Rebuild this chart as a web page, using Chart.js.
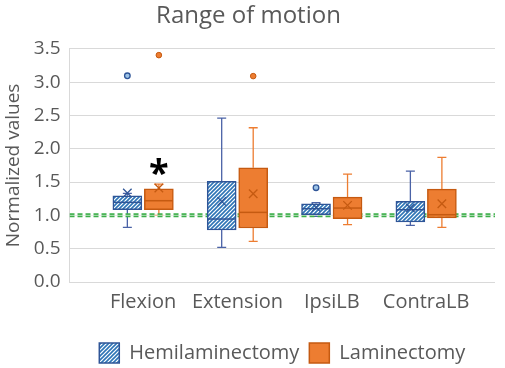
<!DOCTYPE html>
<html>
<head>
<meta charset="utf-8">
<script src="https://cdn.jsdelivr.net/npm/chart.js@4.4.0/dist/chart.umd.min.js"></script>
<style>
html, body { margin: 0; padding: 0; background: #fff; }
#contenedor { width: 505px; height: 368px; }
</style>
</head>
<body>
<div id="contenedor"><canvas id="grafico"></canvas></div>
<script>
const categorias = ["Flexion", "Extension", "IpsiLB", "ContraLB"];
const nombresSeries = ["Hemilaminectomy", "Laminectomy"];

// Hemilaminectomy
const hemiMin = [0.82, 0.52, 0.985, 0.85];
const hemiQ1 = [1.085, 0.78, 1.01, 0.90];
const hemiMediana = [1.195, 0.945, 1.10, 1.085];
const hemiQ3 = [1.295, 1.51, 1.175, 1.21];
const hemiMax = [1.33, 2.46, 1.19, 1.665];
const hemiMedia = [1.335, 1.21, 1.12, 1.11];
const hemiAtipicos = [[3.095], [], [1.415], []];

// Laminectomy
const lamiMin = [1.0, 0.61, 0.86, 0.82];
const lamiQ1 = [1.085, 0.81, 0.95, 0.96];
const lamiMediana = [1.22, 1.045, 1.11, 1.01];
const lamiQ3 = [1.40, 1.715, 1.275, 1.395];
const lamiMax = [1.47, 2.315, 1.62, 1.87];
const lamiMedia = [1.41, 1.325, 1.15, 1.175];
const lamiAtipicos = [[3.405], [3.09], [], []];

const ticksY = [0, 0.5, 1.0, 1.5, 2.0, 2.5, 3.0, 3.5];
const lineaReferencia = 1.0;
const asterisco = { categoria: 0, valor: 1.72, texto: "*" };

const desplazamiento = 0.167;
const xMin = -0.78;
const xMax = 3.73;

const colorTexto = "#595959";
const azulBorde = "#2F5597";
const azulRayas = "#2E75B6";
const naranja = "#ED7D31";
const naranjaBorde = "#C55A11";

function crearRayado() {
    const c = document.createElement("canvas");
    c.width = 4;
    c.height = 4;
    const g = c.getContext("2d");
    g.fillStyle = "#ffffff";
    g.fillRect(0, 0, 4, 4);
    g.strokeStyle = azulRayas;
    g.lineWidth = 1.6;
    g.beginPath();
    g.moveTo(-1, 5); g.lineTo(5, -1);
    g.moveTo(-3, 3); g.lineTo(3, -3);
    g.moveTo(1, 7); g.lineTo(7, 1);
    g.stroke();
    return g.createPattern(c, "repeat");
}
const rayado = crearRayado();

const grupos = [
    { off: -desplazamiento, min: hemiMin, q1: hemiQ1, med: hemiMediana, q3: hemiQ3, max: hemiMax, bigote: "#4A62A6", mediana: azulBorde },
    { off: desplazamiento, min: lamiMin, q1: lamiQ1, med: lamiMediana, q3: lamiQ3, max: lamiMax, bigote: naranja, mediana: naranjaBorde }
];

function puntosAtipicos(lista, off) {
    const pts = [];
    lista.forEach((vals, i) => vals.forEach(v => pts.push({ x: i + off, y: v })));
    return pts;
}

const bigotesPlugin = {
    id: "bigotes",
    beforeDatasetsDraw(chart) {
        const ctx = chart.ctx;
        const xs = chart.scales.x, ys = chart.scales.y;
        ctx.save();
        ctx.lineWidth = 1.3;
        grupos.forEach(g => {
            ctx.strokeStyle = g.bigote;
            categorias.forEach((c, i) => {
                const px = xs.getPixelForValue(i + g.off);
                const pares = [[g.q3[i], g.max[i]], [g.q1[i], g.min[i]]];
                pares.forEach(([a, b]) => {
                    const ya = ys.getPixelForValue(a), yb = ys.getPixelForValue(b);
                    ctx.beginPath();
                    ctx.moveTo(px, ya); ctx.lineTo(px, yb);
                    ctx.moveTo(px - 4.5, yb); ctx.lineTo(px + 4.5, yb);
                    ctx.stroke();
                });
            });
        });
        ctx.restore();
    },
    afterDatasetDraw(chart, args) {
        if (args.index > 1) return;
        const g = grupos[args.index];
        const ctx = chart.ctx;
        const xs = chart.scales.x, ys = chart.scales.y;
        ctx.save();
        ctx.strokeStyle = g.mediana;
        ctx.lineWidth = 1.5;
        categorias.forEach((c, i) => {
            const px = xs.getPixelForValue(i + g.off);
            const py = ys.getPixelForValue(g.med[i]);
            ctx.beginPath();
            ctx.moveTo(px - 14, py); ctx.lineTo(px + 14, py);
            ctx.stroke();
        });
        ctx.restore();
    },
    afterDraw(chart) {
        const ctx = chart.ctx;
        const px = chart.scales.x.getPixelForValue(asterisco.categoria + desplazamiento);
        const py = chart.scales.y.getPixelForValue(asterisco.valor);
        ctx.save();
        ctx.fillStyle = "#000";
        ctx.font = "bold 36px 'Open Sans'";
        ctx.textAlign = "center";
        ctx.textBaseline = "middle";
        ctx.fillText(asterisco.texto, px, py + 7);
        ctx.restore();
    }
};

const ctxGrafico = document.getElementById("grafico").getContext("2d");
const grafico = new Chart(ctxGrafico, {
    type: "bar",
    data: {
        datasets: [
            {
                label: nombresSeries[0],
                data: categorias.map((c, i) => ({ x: i - desplazamiento, y: [hemiQ1[i], hemiQ3[i]] })),
                backgroundColor: rayado,
                borderColor: azulBorde,
                borderWidth: 1.5,
                borderSkipped: false,
                barThickness: 29,
                grouped: false,
                order: 5
            },
            {
                label: nombresSeries[1],
                data: categorias.map((c, i) => ({ x: i + desplazamiento, y: [lamiQ1[i], lamiQ3[i]] })),
                backgroundColor: naranja,
                borderColor: naranjaBorde,
                borderWidth: 1.5,
                borderSkipped: false,
                barThickness: 29,
                grouped: false,
                order: 5
            },
            {
                type: "scatter",
                label: "media1",
                data: categorias.map((c, i) => ({ x: i - desplazamiento, y: hemiMedia[i] })),
                pointStyle: "crossRot",
                radius: 6,
                borderColor: azulBorde,
                borderWidth: 1.3,
                order: 1
            },
            {
                type: "scatter",
                label: "media2",
                data: categorias.map((c, i) => ({ x: i + desplazamiento, y: lamiMedia[i] })),
                pointStyle: "crossRot",
                radius: 6,
                borderColor: naranjaBorde,
                borderWidth: 1.3,
                order: 1
            },
            {
                type: "scatter",
                label: "atipicos1",
                data: puntosAtipicos(hemiAtipicos, -desplazamiento),
                radius: 2.8,
                backgroundColor: "#9DC3E6",
                borderColor: azulBorde,
                borderWidth: 1.3,
                order: 1
            },
            {
                type: "scatter",
                label: "atipicos2",
                data: puntosAtipicos(lamiAtipicos, desplazamiento),
                radius: 2.8,
                backgroundColor: naranja,
                borderColor: naranjaBorde,
                borderWidth: 1,
                order: 1
            },
            {
                type: "line",
                label: "referencia",
                data: [{ x: xMin, y: lineaReferencia }, { x: xMax, y: lineaReferencia }],
                borderColor: "#3DAE4A",
                borderWidth: 4,
                borderDash: [5, 3],
                pointRadius: 0,
                order: 9
            },
            {
                type: "line",
                label: "referencia2",
                data: [{ x: xMin, y: lineaReferencia }, { x: xMax, y: lineaReferencia }],
                borderColor: "rgba(255,255,255,0.6)",
                borderWidth: 1,
                pointRadius: 0,
                order: 8
            }
        ]
    },
    options: {
        responsive: true,
        maintainAspectRatio: false,
        animation: false,
        layout: { padding: { left: 2, right: 10, top: 2, bottom: -5 } },
        scales: {
            x: {
                type: "linear",
                min: xMin,
                max: xMax,
                offset: false,
                afterBuildTicks: (scale) => {
                    scale.ticks = categorias.map((c, i) => ({ value: i }));
                },
                afterFit: (scale) => {
                    scale.height += 11;
                },
                ticks: {
                    callback: (v) => categorias[v],
                    color: colorTexto,
                    font: { family: "'Open Sans'", size: 20 },
                    padding: 8,
                    maxRotation: 0,
                    autoSkip: false
                },
                grid: { display: false, drawTicks: false, offset: false },
                border: { display: false }
            },
            y: {
                min: 0,
                max: 3.5,
                afterBuildTicks: (scale) => {
                    scale.ticks = ticksY.map(v => ({ value: v }));
                },
                ticks: {
                    callback: (v) => v.toFixed(1),
                    color: colorTexto,
                    font: { family: "'Open Sans'", size: 19 },
                    padding: 9
                },
                grid: { color: "#D9D9D9", lineWidth: 1, drawTicks: false },
                border: { display: true, color: "#D9D9D9" },
                title: {
                    display: true,
                    text: "Normalized values",
                    color: colorTexto,
                    font: { family: "'Open Sans'", size: 19 },
                    padding: { top: 0, bottom: 0 }
                }
            }
        },
        plugins: {
            title: {
                display: true,
                text: "Range of motion",
                color: colorTexto,
                font: { family: "'Open Sans'", size: 24, weight: "normal" },
                padding: { top: 0, bottom: 18 }
            },
            legend: {
                position: "bottom",
                fullSize: false,
                labels: {
                    filter: (item) => item.datasetIndex < 2,
                    color: colorTexto,
                    font: { family: "'Open Sans'", size: 20 },
                    boxWidth: 20,
                    boxHeight: 20,
                    padding: 10
                }
            },
            tooltip: { enabled: false }
        }
    },
    plugins: [bigotesPlugin]
});
</script>
</body>
</html>
